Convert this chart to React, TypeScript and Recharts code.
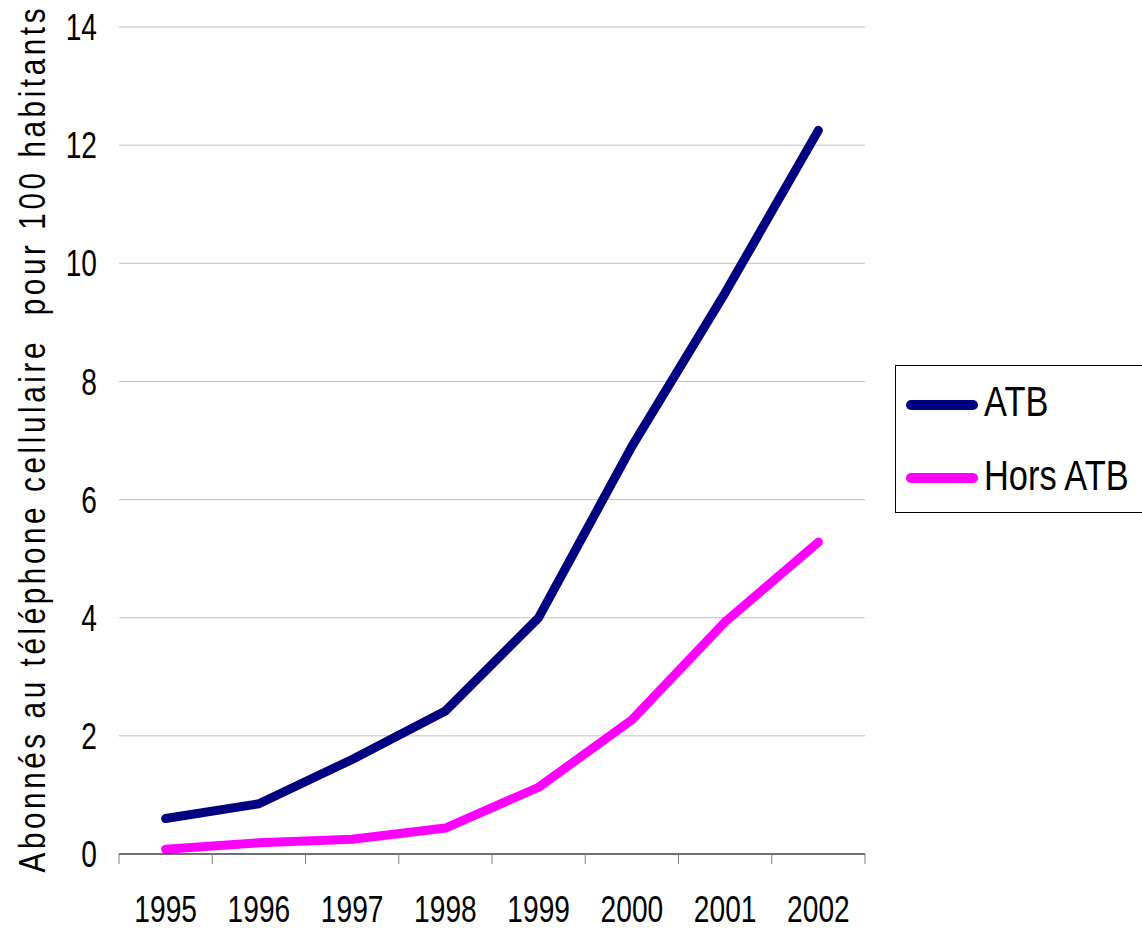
import { LineChart, Line, XAxis, YAxis, CartesianGrid, Legend } from "recharts";

const years = ["1995", "1996", "1997", "1998", "1999", "2000", "2001", "2002"];
const atb = [0.6, 0.85, 1.6, 2.42, 4.0, 6.9, 9.5, 12.25];
const horsAtb = [0.08, 0.19, 0.25, 0.44, 1.13, 2.27, 3.93, 5.28];
const yTicks = [0, 2, 4, 6, 8, 10, 12, 14];
const xTicks = [0, 1, 2, 3, 4, 5, 6, 7, 8];
const yTitle = "Abonnés au téléphone cellulaire  pour 100 habitants";

const data = years.map((year, i) => ({
  year,
  pos: i + 0.5,
  atb: atb[i],
  hors: horsAtb[i],
}));

const FONT = "'Liberation Sans', Arial, sans-serif";
const NARROW = 0.76; // no Arial Narrow installed, squeeze Liberation Sans instead

function YTick({ x, y, payload }: any) {
  return (
    <text
      transform={`translate(${x},${y}) scale(${NARROW},1)`}
      textAnchor="end"
      dy="0.355em"
      fontFamily={FONT}
      fontSize={37}
      fill="#000"
    >
      {payload.value}
    </text>
  );
}

function XTick({ x, y, payload }: any) {
  return (
    <text
      transform={`translate(${x},${y}) scale(${NARROW},1)`}
      textAnchor="middle"
      dy="0.71em"
      fontFamily={FONT}
      fontSize={37}
      fill="#000"
    >
      {payload.value}
    </text>
  );
}

// tick marks only, labels come from the category axis below
const NoLabel = () => <g />;

function YTitle({ viewBox }: any) {
  const cy = viewBox.y + viewBox.height / 2;
  return (
    <text
      transform={`translate(45,${cy}) rotate(-90) scale(0.8,1)`}
      textAnchor="middle"
      fontFamily={FONT}
      fontSize={37}
      fill="#000"
      textLength={1080}
      lengthAdjust="spacing"
      style={{ whiteSpace: "pre" }}
    >
      {yTitle}
    </text>
  );
}

const legendItems = [
  { label: "ATB", color: "#000080" },
  { label: "Hors ATB", color: "#FF00FF" },
];

function LegendBox() {
  return (
    <div
      style={{
        position: "relative",
        border: "1px solid #000",
        width: 262,
        height: 148,
        boxSizing: "border-box",
        background: "#fff",
      }}
    >
      {legendItems.map((it, i) => (
        <div key={it.label}>
          <div
            style={{
              position: "absolute",
              left: 10,
              top: 34 + i * 73,
              width: 72,
              height: 10,
              borderRadius: 5,
              background: it.color,
            }}
          />
          <span
            style={{
              position: "absolute",
              left: 88,
              top: 14 + i * 74,
              display: "inline-block",
              whiteSpace: "nowrap",
              fontFamily: FONT,
              fontSize: 43,
              lineHeight: "43px",
              color: "#000",
              transform: "scale(0.8,1)",
              transformOrigin: "left top",
            }}
          >
            {it.label}
          </span>
        </div>
      ))}
    </div>
  );
}

export default function App() {
  return (
    <div style={{ position: "absolute", left: 0, top: 0, background: "#fff" }}>
      <LineChart
        width={1142}
        height={931}
        data={data}
        margin={{ top: 27, right: 277, left: 0, bottom: 0 }}
      >
        <CartesianGrid vertical={false} stroke="#c0c0c0" />
        <XAxis
          dataKey="pos"
          type="number"
          domain={[0, 8]}
          ticks={xTicks}
          tick={<NoLabel />}
          tickSize={10}
          height={10}
          axisLine={{ stroke: "#000" }}
          tickLine={{ stroke: "#808080" }}
        />
        <XAxis
          xAxisId="yr"
          dataKey="year"
          type="category"
          scale="band"
          axisLine={false}
          tickLine={false}
          tickMargin={26}
          height={67}
          interval={0}
          tick={<XTick />}
        />
        <YAxis
          domain={[0, 14]}
          ticks={yTicks}
          width={119}
          axisLine={false}
          tickLine={false}
          tickMargin={16}
          tick={<YTick />}
          label={<YTitle />}
        />
        <Legend
          layout="horizontal"
          align="center"
          verticalAlign="middle"
          content={() => <LegendBox />}
          wrapperStyle={{ left: 895, top: 365, width: 262, height: 148 }}
        />
        <Line
          dataKey="atb"
          name="ATB"
          stroke="#000080"
          strokeWidth={9}
          strokeLinejoin="round"
          strokeLinecap="round"
          dot={false}
          isAnimationActive={false}
        />
        <Line
          dataKey="hors"
          name="Hors ATB"
          stroke="#FF00FF"
          strokeWidth={9}
          strokeLinejoin="round"
          strokeLinecap="round"
          dot={false}
          isAnimationActive={false}
        />
      </LineChart>
    </div>
  );
}
